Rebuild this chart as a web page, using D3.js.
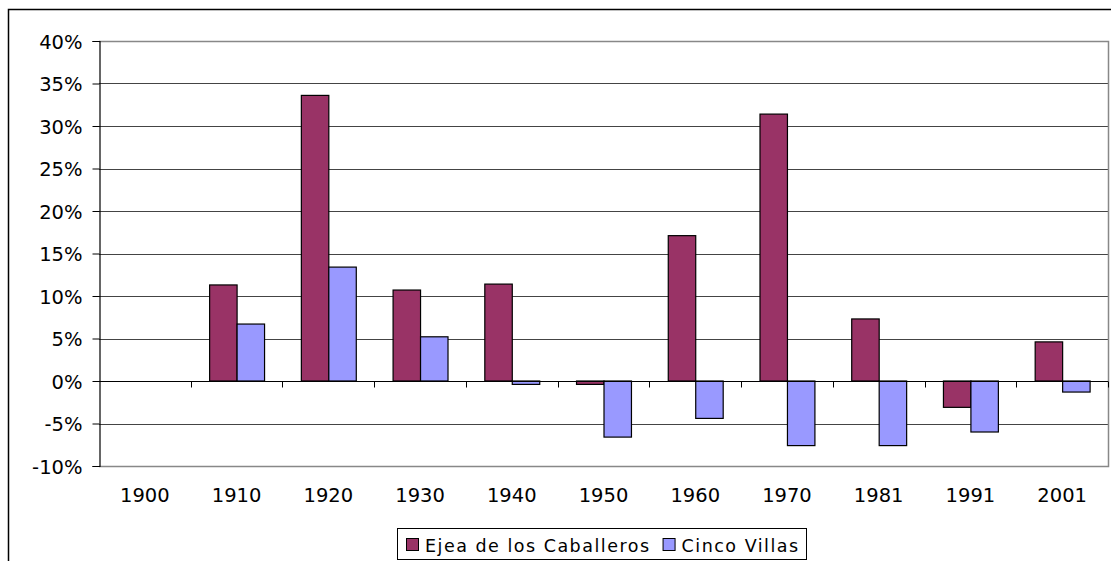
<!DOCTYPE html>
<html><head><meta charset="utf-8">
<script src="https://cdn.jsdelivr.net/npm/d3@7"></script>
<style>body{margin:0;background:#fff}svg{display:block}text{font-family:"DejaVu Sans",Verdana,sans-serif;fill:#000}</style>
</head><body><svg id="c" width="1111" height="561"></svg>
<script>
const years = ["1900","1910","1920","1930","1940","1950","1960","1970","1981","1991","2001"];
const ejea  = [null, 11.3, 33.6, 10.7, 11.4, -0.4, 17.1, 31.4, 7.3, -3.1, 4.6];
const cinco = [null, 6.7, 13.4, 5.2, -0.4, -6.6, -4.4, -7.6, -7.6, -6.0, -1.3];
const seriesNames = ["Ejea de los Caballeros","Cinco Villas"];
const colors = ["#993366","#9999FF"];
const yTicks = [-10,-5,0,5,10,15,20,25,30,35,40];

const svg = d3.select("#c");
const L=99,R=1108,T=41,B=466;
// outer border
svg.append("rect").attr("x",8.5).attr("y",9.5).attr("width",1120).attr("height",600).attr("fill","none").attr("stroke","#000").attr("stroke-width",1.5);

const x = d3.scaleBand().domain(years).range([L,R]);
const y = d3.scaleLinear().domain([-10,40]).range([B,T]);
const xi = d3.scaleBand().domain([0,1]).range([0,x.bandwidth()]).paddingInner(0).paddingOuter(0.67);

// gridlines
svg.append("g").selectAll("line").data(yTicks.filter(v=>v>-10&&v<40)).join("line")
  .attr("x1",L).attr("x2",R).attr("y1",d=>Math.round(y(d))+0.5).attr("y2",d=>Math.round(y(d))+0.5)
  .attr("stroke",d=>d===0?"none":"#444").attr("stroke-width",1);
// plot border
svg.append("path").attr("d",`M${L},${T+0.5}H${R+0.5}V${B+0.5}H${L}`).attr("fill","none").attr("stroke","#888").attr("stroke-width",1.5);

// bars
const data = [ejea,cinco];
data.forEach((vals,si)=>{
  svg.append("g").selectAll("rect").data(years.map((yr,i)=>({yr,v:vals[i]})).filter(d=>d.v!=null)).join("rect")
    .attr("x",d=>x(d.yr)+xi(si)+0.5)
    .attr("y",d=>Math.min(y(d.v),y(0)))
    .attr("width",xi.bandwidth())
    .attr("height",d=>Math.abs(y(d.v)-y(0)))
    .attr("fill",colors[si]).attr("stroke","#000").attr("stroke-width",1.2);
});

// y axis
const ya = d3.axisLeft(y).tickValues(yTicks).tickFormat(d=>d+"%").tickSize(7).tickPadding(10);
const gy = svg.append("g").attr("transform",`translate(${L+0.5},0)`).call(ya);
gy.select(".domain").attr("stroke","#000").attr("stroke-width",1.2);
gy.selectAll("line").attr("stroke","#000");
gy.selectAll("text").style("font-size","19.5px").attr("dy","0.36em");

// x axis at zero
const gx = svg.append("g").attr("transform",`translate(0,${Math.round(y(0))+0.5})`);
gx.append("line").attr("x1",L).attr("x2",R).attr("stroke","#000").attr("stroke-width",1.2);
gx.selectAll("line.t").data(years.slice(1).map(v=>x(v)).concat([R])).join("line").attr("class","t")
  .attr("x1",d=>Math.round(d)+0.5).attr("x2",d=>Math.round(d)+0.5).attr("y1",0).attr("y2",6).attr("stroke","#000");
svg.append("g").selectAll("text").data(years).join("text")
  .attr("x",d=>x(d)+x.bandwidth()/2).attr("y",502).attr("text-anchor","middle")
  .style("font-size","19.5px").text(d=>d);

// legend
const lg = svg.append("g");
lg.append("rect").attr("x",397.5).attr("y",528.5).attr("width",409).attr("height",31).attr("fill","#fff").attr("stroke","#000");
let lx = 406;
seriesNames.forEach((n,i)=>{
  lg.append("rect").attr("x",lx+0.5).attr("y",538.5).attr("width",12).attr("height",12).attr("fill",colors[i]).attr("stroke","#000");
  const t = lg.append("text").attr("x",lx+19).attr("y",552).style("font-size","17.5px").style("letter-spacing","1.5px").text(n);
  lx += 19 + t.node().getComputedTextLength() + 12;
});
</script></body></html>
